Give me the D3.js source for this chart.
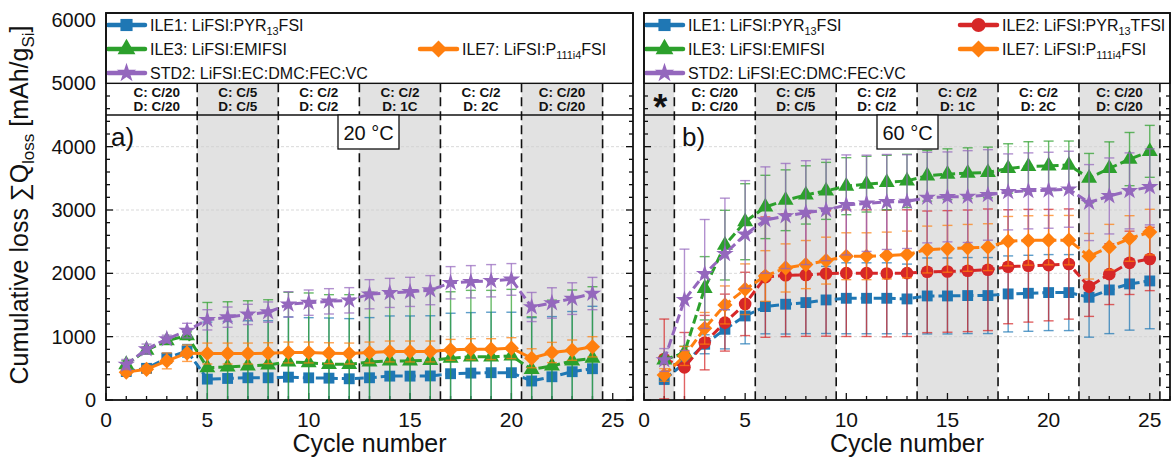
<!DOCTYPE html>
<html>
<head>
<meta charset="utf-8">
<script src="https://cdn.jsdelivr.net/npm/d3@7"></script>
<style>
  body { margin: 0; background: #fff; }
  svg { display: block; font-family: "Liberation Sans", Arial, sans-serif; }
</style>
</head>
<body>
<div id="chart"></div>
<script>
// ---------- data ----------
var cyclesA = d3.range(1, 25);
var cyclesB = d3.range(1, 26);

// panel a) 20 °C
var ile1A    = [450, 500, 660, 776, 330, 340, 351, 351, 361, 350, 345, 335, 351, 377, 377, 380, 415, 425, 431, 431, 300, 367, 447, 494];
var ile1AErr = [50, 60, 80, 100, 900, 900, 900, 900, 950, 950, 950, 950, 950, 950, 950, 950, 955, 955, 955, 955, 1000, 950, 950, 985];
var ile3A    = [560, 787, 936, 1016, 510, 521, 537, 553, 601, 590, 563, 563, 601, 617, 617, 627, 659, 681, 681, 697, 484, 537, 617, 659];
var ile3AErr = [60, 50, 50, 60, 1030, 1030, 1030, 1030, 1100, 1100, 1100, 1100, 1100, 1100, 1100, 1100, 1050, 1050, 1050, 1050, 830, 1040, 1120, 1130];
var ile7A    = [440, 484, 617, 739, 734, 734, 734, 739, 750, 750, 739, 734, 750, 766, 766, 766, 792, 803, 803, 819, 659, 750, 787, 840];
var ile7AErr = [50, 60, 125, 130, 165, 165, 165, 165, 165, 165, 165, 165, 165, 165, 165, 165, 165, 165, 165, 165, 150, 160, 160, 160];
var std2A    = [560, 803, 963, 1096, 1266, 1308, 1351, 1388, 1510, 1537, 1558, 1574, 1670, 1691, 1707, 1734, 1851, 1867, 1883, 1904, 1468, 1532, 1601, 1681];
var std2AErr = [80, 80, 60, 115, 160, 160, 160, 160, 200, 200, 200, 200, 230, 230, 230, 230, 255, 255, 255, 250, 230, 240, 250, 255];

// panel b) 60 °C
var ile1B    = [327, 580, 880, 1117, 1327, 1475, 1512, 1538, 1580, 1606, 1606, 1606, 1596, 1643, 1643, 1649, 1649, 1675, 1685, 1696, 1696, 1622, 1738, 1833, 1880];
var ile1BErr = [80, 100, 150, 310, 440, 430, 470, 490, 530, 560, 560, 560, 550, 600, 600, 600, 600, 600, 600, 600, 600, 630, 690, 730, 755];
var ile2B    = [648, 516, 906, 1222, 1517, 1940, 1970, 1975, 1997, 2003, 2003, 1997, 2003, 2024, 2030, 2040, 2056, 2104, 2120, 2130, 2147, 1790, 1987, 2166, 2227];
var ile2BErr = [630, 550, 430, 450, 500, 950, 970, 970, 990, 1000, 1000, 1000, 1000, 960, 960, 960, 960, 900, 890, 880, 870, 470, 480, 500, 500];
var ile3B    = [632, 748, 1764, 2445, 2815, 3048, 3154, 3238, 3302, 3376, 3408, 3434, 3460, 3540, 3566, 3582, 3593, 3656, 3688, 3698, 3709, 3503, 3656, 3804, 3926];
var ile3BErr = [60, 100, 500, 550, 600, 500, 480, 460, 450, 450, 440, 430, 420, 400, 400, 400, 400, 390, 390, 390, 380, 390, 420, 420, 410];
var ile7B    = [395, 695, 1132, 1501, 1749, 1958, 2085, 2138, 2201, 2270, 2270, 2281, 2297, 2376, 2387, 2402, 2413, 2508, 2519, 2524, 2524, 2270, 2413, 2550, 2651];
var ile7BErr = [100, 150, 250, 300, 400, 400, 380, 380, 370, 370, 370, 370, 370, 370, 370, 370, 370, 390, 390, 390, 390, 360, 360, 360, 360];
var std2B    = [632, 1582, 1990, 2307, 2614, 2841, 2905, 2958, 3000, 3080, 3106, 3127, 3132, 3196, 3207, 3212, 3238, 3286, 3302, 3312, 3328, 3117, 3222, 3302, 3365];
var std2BErr = [180, 800, 860, 880, 850, 840, 830, 820, 800, 790, 760, 750, 740, 715, 710, 725, 715, 600, 600, 600, 600, 600, 600, 600, 600];

// rate protocol strip
var rateTop   = ['C: C/20', 'C: C/5', 'C: C/2', 'C: C/2', 'C: C/2', 'C: C/20'];
var rateBot   = ['D: C/20', 'D: C/5', 'D: C/2', 'D: 1C', 'D: 2C', 'D: C/20'];
var rateMidA  = [2.5, 6.5, 10.5, 14.5, 18.5, 22.5];
var rateMidB  = [3.5, 7.5, 11.5, 15.5, 19.5, 23.5];
var dividersA = [4.5, 8.5, 12.5, 16.5, 20.5, 24.5];
var dividersB = [1.5, 5.5, 9.5, 13.5, 17.5, 21.5, 25.5];
var shadesA   = [[4.5, 8.5], [12.5, 16.5], [20.5, 24.5]];
var shadesB   = [[0, 1.5], [5.5, 9.5], [13.5, 17.5], [21.5, 25.5]];

var yTicks = d3.range(0, 6001, 1000);
var xTicks = d3.range(0, 26, 5);

// ---------- setup ----------
var W = 1171, H = 458;
var svg = d3.select('#chart').append('svg').attr('width', W).attr('height', H);

var y = d3.scaleLinear().domain([0, 6000]).range([400, 20]);
var frameTop = 13;

var C = { ile1: '#1f77b4', ile2: '#d62728', ile3: '#2ca02c', ile7: '#ff7f0e', std2: '#9467bd' };

var LBL = {
  ile1: [['ILE1: LiFSI:PYR'], ['13', 1], ['FSI']],
  ile2: [['ILE2: LiFSI:PYR'], ['13', 1], ['TFSI']],
  ile3: [['ILE3: LiFSI:EMIFSI']],
  ile7: [['ILE7: LiFSI:P'], ['111i4', 1], ['FSI']],
  std2: [['STD2: LiFSI:EC:DMC:FEC:VC']]
};

function marker(kind, big) {
  var k = big ? 1.25 : 1;
  if (kind === 'square') return d3.symbol(d3.symbolSquare, 118 * k)();
  if (kind === 'circle') return d3.symbol(d3.symbolCircle, 125 * k)();
  if (kind === 'triangle') return d3.symbol(d3.symbolTriangle, 110 * k)();
  if (kind === 'diamond') return d3.symbol(d3.symbolSquare, 115 * k)();
  return d3.symbol(d3.symbolStar, 95 * k)();
}
function markerRot(kind) { return kind === 'diamond' ? ' rotate(45)' : ''; }

function addLabel(sel, parts, size) {
  parts.forEach(function(pt) {
    if (pt[1]) {
      sel.append('tspan').attr('font-size', size * 0.68).attr('dy', size * 0.22).text(pt[0]);
    } else {
      var t = sel.append('tspan').text(pt[0]);
      if (sel.selectAll('tspan').size() > 1) t.attr('dy', -size * 0.22);
    }
  });
}

function drawPanel(p) {
  var x = d3.scaleLinear().domain([0, 26]).range([p.left, p.right]);
  var g = svg.append('g');

  g.append('clipPath').attr('id', 'clip-' + p.id).append('rect')
    .attr('x', p.left).attr('y', y(4500))
    .attr('width', p.right - p.left).attr('height', y(0) - y(4500));

  // shaded protocol blocks
  p.shades.forEach(function(s) {
    g.append('rect')
      .attr('x', x(s[0])).attr('y', y(5000))
      .attr('width', x(s[1]) - x(s[0])).attr('height', y(0) - y(5000))
      .attr('fill', '#e2e2e2');
  });

  // grid
  [1000, 2000, 3000, 4000].forEach(function(v) {
    g.append('line')
      .attr('x1', p.left).attr('x2', p.right).attr('y1', y(v)).attr('y2', y(v))
      .attr('stroke', '#cfcfcf').attr('stroke-width', 0.8).attr('stroke-dasharray', '3,2');
  });

  // dividers
  p.dividers.forEach(function(d) {
    g.append('line')
      .attr('x1', x(d)).attr('x2', x(d)).attr('y1', y(5000)).attr('y2', y(0))
      .attr('stroke', '#111').attr('stroke-width', 1.6).attr('stroke-dasharray', '9,5');
  });

  // strip line
  g.append('line')
    .attr('x1', p.left).attr('x2', p.right).attr('y1', y(4500)).attr('y2', y(4500))
    .attr('stroke', '#111').attr('stroke-width', 1.4);

  // rate labels
  p.rateMid.forEach(function(m, i) {
    g.append('text').attr('x', x(m)).attr('y', 96.5).attr('text-anchor', 'middle')
      .attr('font-size', 13.5).attr('font-weight', 'bold').attr('fill', '#111').text(rateTop[i]);
    g.append('text').attr('x', x(m)).attr('y', 111).attr('text-anchor', 'middle')
      .attr('font-size', 13.5).attr('font-weight', 'bold').attr('fill', '#111').text(rateBot[i]);
  });
  if (p.star) {
    g.append('text').attr('x', x(0.8)).attr('y', 120).attr('text-anchor', 'middle')
      .attr('font-size', 36).attr('font-weight', 'bold').attr('fill', '#111').text('*');
  }

  // ticks (inward)
  var ticksG = g.append('g').attr('stroke', '#111').attr('stroke-width', 1.3);
  d3.range(0, 27, 1).forEach(function(v) {
    var len = v % 5 === 0 ? 7 : 4;
    ticksG.append('line').attr('x1', x(v)).attr('x2', x(v)).attr('y1', y(0)).attr('y2', y(0) - len);
  });
  d3.range(0, 6001, 200).forEach(function(v) {
    var len = v % 1000 === 0 ? 7 : 4;
    ticksG.append('line').attr('x1', p.left).attr('x2', p.left + len).attr('y1', y(v)).attr('y2', y(v));
    ticksG.append('line').attr('x1', p.right).attr('x2', p.right - len).attr('y1', y(v)).attr('y2', y(v));
  });

  // series
  var plot = g.append('g').attr('clip-path', 'url(#clip-' + p.id + ')');
  p.series.forEach(function(s) {
    var pts = p.cycles.map(function(c, i) { return { c: c, v: s.values[i], e: s.errs[i] }; });
    var sg = plot.append('g');
    var eb = sg.append('g').attr('stroke', s.color).attr('stroke-width', 1.4).attr('stroke-opacity', 0.72);
    pts.forEach(function(d) {
      eb.append('line').attr('x1', x(d.c)).attr('x2', x(d.c)).attr('y1', y(d.v - d.e)).attr('y2', y(d.v + d.e));
      eb.append('line').attr('x1', x(d.c) - 5).attr('x2', x(d.c) + 5).attr('y1', y(d.v - d.e)).attr('y2', y(d.v - d.e));
      eb.append('line').attr('x1', x(d.c) - 5).attr('x2', x(d.c) + 5).attr('y1', y(d.v + d.e)).attr('y2', y(d.v + d.e));
    });
    sg.append('path')
      .datum(pts)
      .attr('d', d3.line().x(function(d) { return x(d.c); }).y(function(d) { return y(d.v); }))
      .attr('fill', 'none').attr('stroke', s.color).attr('stroke-width', 3)
      .attr('stroke-dasharray', s.solid ? null : '9,4');
    sg.selectAll('path.m').data(pts).enter().append('path').attr('class', 'm')
      .attr('d', marker(s.shape))
      .attr('transform', function(d) { return 'translate(' + x(d.c) + ',' + y(d.v) + ')' + markerRot(s.shape); })
      .attr('fill', s.color);
  });

  // temperature box and panel letter
  g.append('rect').attr('x', p.tempBox[0]).attr('y', y(4500))
    .attr('width', p.tempBox[1] - p.tempBox[0]).attr('height', 34)
    .attr('fill', '#fff').attr('stroke', '#111').attr('stroke-width', 1.3);
  g.append('text').attr('x', (p.tempBox[0] + p.tempBox[1]) / 2).attr('y', y(4500) + 25)
    .attr('text-anchor', 'middle').attr('font-size', 20).attr('fill', '#111').text(p.temp);
  g.append('text').attr('x', p.letterX).attr('y', 146).attr('font-size', 26).attr('fill', '#111').text(p.letter);

  // legend box
  g.append('rect').attr('x', p.left).attr('y', frameTop)
    .attr('width', p.right - p.left).attr('height', y(5000) - frameTop)
    .attr('fill', '#fff').attr('stroke', '#111').attr('stroke-width', 1.4);
  p.legend.forEach(function(L) {
    var s = p.series.filter(function(q) { return q.key === L.key; })[0];
    var lg = g.append('g');
    lg.append('line').attr('x1', L.x).attr('x2', L.x + 37).attr('y1', L.y).attr('y2', L.y)
      .attr('stroke', s.color).attr('stroke-width', 4.5).attr('stroke-linecap', 'round');
    lg.append('path').attr('d', marker(s.shape, true))
      .attr('transform', 'translate(' + (L.x + 18.5) + ',' + L.y + ')' + markerRot(s.shape))
      .attr('fill', s.color);
    var t = lg.append('text').attr('x', L.x + 42).attr('y', L.y + 6)
      .attr('font-size', 16).attr('fill', '#111');
    addLabel(t, LBL[L.key], 16);
  });

  // frame
  g.append('rect').attr('x', p.left).attr('y', frameTop)
    .attr('width', p.right - p.left).attr('height', y(0) - frameTop)
    .attr('fill', 'none').attr('stroke', '#111').attr('stroke-width', 1.8);

  // x tick labels and title
  xTicks.forEach(function(v) {
    g.append('text').attr('x', x(v)).attr('y', 427).attr('text-anchor', 'middle')
      .attr('font-size', 21).attr('fill', '#111').text(v);
  });
  g.append('text').attr('x', (p.left + p.right) / 2).attr('y', 452).attr('text-anchor', 'middle')
    .attr('font-size', 25).attr('fill', '#111').text('Cycle number');
}

drawPanel({
  id: 'a', left: 106, right: 633, cycles: cyclesA,
  shades: shadesA, dividers: dividersA, rateMid: rateMidA, star: false,
  temp: '20 °C', tempBox: [338, 399], letter: 'a)', letterX: 111,
  series: [
    { key: 'ile1', color: C.ile1, shape: 'square', values: ile1A, errs: ile1AErr },
    { key: 'ile3', color: C.ile3, shape: 'triangle', values: ile3A, errs: ile3AErr },
    { key: 'ile7', color: C.ile7, shape: 'diamond', values: ile7A, errs: ile7AErr, solid: true },
    { key: 'std2', color: C.std2, shape: 'star', values: std2A, errs: std2AErr }
  ],
  legend: [
    { key: 'ile1', x: 108, y: 25 },
    { key: 'ile3', x: 108, y: 49 },
    { key: 'ile7', x: 420, y: 49 },
    { key: 'std2', x: 108, y: 73 }
  ]
});

drawPanel({
  id: 'b', left: 644, right: 1170, cycles: cyclesB,
  shades: shadesB, dividers: dividersB, rateMid: rateMidB, star: true,
  temp: '60 °C', tempBox: [877, 938], letter: 'b)', letterX: 682,
  series: [
    { key: 'ile1', color: C.ile1, shape: 'square', values: ile1B, errs: ile1BErr },
    { key: 'ile2', color: C.ile2, shape: 'circle', values: ile2B, errs: ile2BErr },
    { key: 'ile3', color: C.ile3, shape: 'triangle', values: ile3B, errs: ile3BErr },
    { key: 'ile7', color: C.ile7, shape: 'diamond', values: ile7B, errs: ile7BErr },
    { key: 'std2', color: C.std2, shape: 'star', values: std2B, errs: std2BErr }
  ],
  legend: [
    { key: 'ile1', x: 646, y: 25 },
    { key: 'ile2', x: 960, y: 25 },
    { key: 'ile3', x: 646, y: 49 },
    { key: 'ile7', x: 960, y: 49 },
    { key: 'std2', x: 646, y: 73 }
  ]
});

// y tick labels (left panel only)
yTicks.forEach(function(v) {
  svg.append('text').attr('x', 96).attr('y', y(v) + 7).attr('text-anchor', 'end')
    .attr('font-size', 20).attr('fill', '#111').text(v);
});

// y axis title
var yt = svg.append('text').attr('transform', 'translate(28,205) rotate(-90)')
  .attr('text-anchor', 'middle').attr('font-size', 25).attr('fill', '#111');
yt.append('tspan').text('Cumulative loss \u2211Q');
yt.append('tspan').attr('font-size', 17).attr('dy', 6).text('loss');
yt.append('tspan').attr('dy', -6).text(' [mAh/g');
yt.append('tspan').attr('font-size', 17).attr('dy', 6).text('Si');
yt.append('tspan').attr('dy', -6).text(']');
</script>
</body>
</html>
